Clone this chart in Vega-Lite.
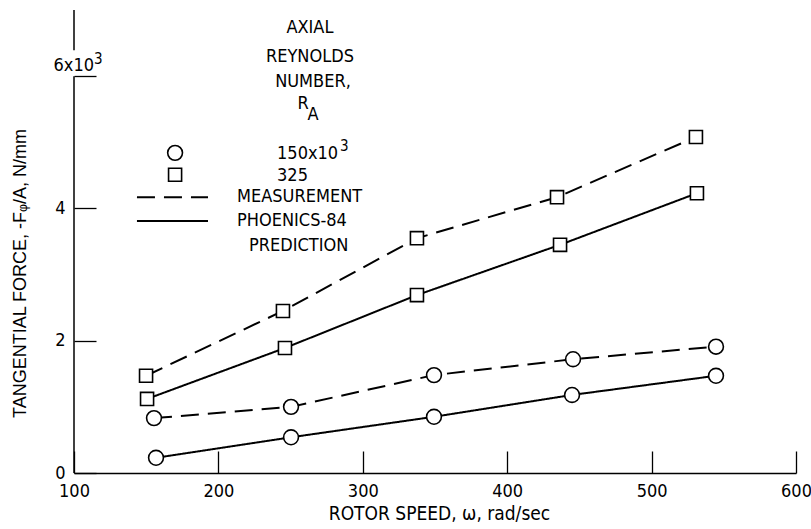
{
  "$schema": "https://vega.github.io/schema/vega-lite/v6.json",
  "width": 722,
  "height": 463,
  "autosize": {"type": "none"},
  "padding": {"left": 74, "top": 10, "right": 15, "bottom": 56},
  "background": "white",
  "config": {
    "view": {"stroke": null},
    "font": "Liberation Sans Narrow, DejaVu Sans Condensed, sans-serif",
    "text": {"font": "Liberation Sans Narrow, DejaVu Sans Condensed, sans-serif", "color": "black"},
    "axis": {
      "grid": false,
      "domainColor": "black",
      "tickColor": "black",
      "labelColor": "black",
      "titleColor": "black",
      "domainWidth": 1.5,
      "tickWidth": 1.3,
      "labelFont": "Liberation Sans Narrow, DejaVu Sans Condensed, sans-serif",
      "titleFont": "Liberation Sans Narrow, DejaVu Sans Condensed, sans-serif",
      "labelFontSize": 18,
      "titleFontSize": 19,
      "titleFontWeight": "normal",
      "labelFlush": false,
      "labelOverlap": false
    }
  },
  "datasets": {
    "obs": [
      {"speed": 149.9, "force": 1.47, "re": "325", "type": "Measurement", "series": "325 Measurement"},
      {"speed": 244.7, "force": 2.45, "re": "325", "type": "Measurement", "series": "325 Measurement"},
      {"speed": 337.5, "force": 3.55, "re": "325", "type": "Measurement", "series": "325 Measurement"},
      {"speed": 434.5, "force": 4.17, "re": "325", "type": "Measurement", "series": "325 Measurement"},
      {"speed": 530.7, "force": 5.08, "re": "325", "type": "Measurement", "series": "325 Measurement"},
      {"speed": 150.6, "force": 1.12, "re": "325", "type": "Prediction", "series": "325 Prediction"},
      {"speed": 246.1, "force": 1.89, "re": "325", "type": "Prediction", "series": "325 Prediction"},
      {"speed": 337.5, "force": 2.69, "re": "325", "type": "Prediction", "series": "325 Prediction"},
      {"speed": 436.6, "force": 3.45, "re": "325", "type": "Prediction", "series": "325 Prediction"},
      {"speed": 531.4, "force": 4.23, "re": "325", "type": "Prediction", "series": "325 Prediction"},
      {"speed": 155.4, "force": 0.83, "re": "150", "type": "Measurement", "series": "150 Measurement"},
      {"speed": 250.3, "force": 1.0, "re": "150", "type": "Measurement", "series": "150 Measurement"},
      {"speed": 349.3, "force": 1.48, "re": "150", "type": "Measurement", "series": "150 Measurement"},
      {"speed": 445.6, "force": 1.72, "re": "150", "type": "Measurement", "series": "150 Measurement"},
      {"speed": 544.6, "force": 1.91, "re": "150", "type": "Measurement", "series": "150 Measurement"},
      {"speed": 156.8, "force": 0.23, "re": "150", "type": "Prediction", "series": "150 Prediction"},
      {"speed": 250.3, "force": 0.54, "re": "150", "type": "Prediction", "series": "150 Prediction"},
      {"speed": 349.3, "force": 0.85, "re": "150", "type": "Prediction", "series": "150 Prediction"},
      {"speed": 444.9, "force": 1.18, "re": "150", "type": "Prediction", "series": "150 Prediction"},
      {"speed": 544.6, "force": 1.47, "re": "150", "type": "Prediction", "series": "150 Prediction"}
    ]
  },
  "layer": [
    {
      "data": {"name": "obs"},
      "mark": {"type": "line", "color": "black", "strokeWidth": 2},
      "encoding": {
        "x": {
          "field": "speed", "type": "quantitative",
          "scale": {"domain": [100, 600], "nice": false, "zero": false},
          "axis": {
            "values": [100, 200, 300, 400, 500, 600],
            "format": "d",
            "tickSize": -22,
            "labelPadding": 31,
            "title": "ROTOR SPEED, ω, rad/sec",
            "titleX": 365,
            "titleY": 40,
            "titleAlign": "center",
            "titleBaseline": "middle"
          }
        },
        "y": {
          "field": "force", "type": "quantitative",
          "scale": {"domain": [0, 7], "nice": false, "zero": false},
          "axis": {
            "values": [0, 2, 4, 6],
            "format": "d",
            "labelExpr": "datum.value == 6 ? '' : datum.label",
            "domain": false,
            "tickSize": -22,
            "labelPadding": 31,
            "labelBaseline": "middle",
            "title": "TANGENTIAL FORCE,  -Fᵩ/A,  N/mm",
            "titleFont": "Liberation Sans, Arial, sans-serif",
            "titleFontSize": 18,
            "titleAngle": -90,
            "titleX": -54,
            "titleY": 263,
            "titleAlign": "center",
            "titleBaseline": "middle"
          }
        },
        "detail": {"field": "series"},
        "strokeDash": {
          "field": "type", "type": "nominal",
          "scale": {"domain": ["Measurement", "Prediction"], "range": [[18, 9], [1, 0]]},
          "legend": null
        }
      }
    },
    {
      "data": {"name": "obs"},
      "mark": {"type": "point", "filled": true, "fill": "white", "stroke": "black", "strokeWidth": 1.6, "opacity": 1},
      "encoding": {
        "x": {"field": "speed", "type": "quantitative"},
        "y": {"field": "force", "type": "quantitative"},
        "shape": {"field": "re", "type": "nominal", "scale": {"domain": ["150", "325"], "range": ["circle", "square"]}, "legend": null},
        "size": {"field": "re", "type": "nominal", "scale": {"domain": ["150", "325"], "range": [220, 170]}, "legend": null}
      }
    },
    {
      "data": {"values": [{}]},
      "mark": {"type": "rule", "color": "black", "strokeWidth": 1.5},
      "encoding": {"x": {"datum": 100}, "y": {"datum": 0}, "y2": {"datum": 6}}
    },
    {
      "data": {"values": [{}]},
      "mark": {"type": "rule", "color": "black", "strokeWidth": 1.5},
      "encoding": {"x": {"datum": 100}, "y": {"datum": 6.39}, "y2": {"datum": 7}}
    },
    {
      "data": {"values": [{}]},
      "mark": {"type": "text", "fontSize": 18, "align": "right", "baseline": "bottom", "dx": 20, "dy": -1},
      "encoding": {"x": {"datum": 100}, "y": {"datum": 6}, "text": {"value": "6x10"}}
    },
    {
      "data": {"values": [{}]},
      "mark": {"type": "text", "fontSize": 15, "align": "left", "baseline": "bottom", "dx": 20, "dy": -9},
      "encoding": {"x": {"datum": 100}, "y": {"datum": 6}, "text": {"value": "3"}}
    },
    {
      "data": {"values": [{}]},
      "mark": {"type": "rule", "color": "black", "strokeWidth": 2, "strokeDash": [18, 9]},
      "encoding": {"x": {"datum": 143.6}, "x2": {"datum": 192.8}, "y": {"datum": 4.17}}
    },
    {
      "data": {"values": [{}]},
      "mark": {"type": "rule", "color": "black", "strokeWidth": 2},
      "encoding": {"x": {"datum": 143.6}, "x2": {"datum": 192.8}, "y": {"datum": 3.81}}
    },
    {
      "data": {"values": [{}]},
      "mark": {"type": "point", "shape": "circle", "size": 220, "filled": true, "fill": "white", "stroke": "black", "strokeWidth": 1.6, "opacity": 1},
      "encoding": {"x": {"datum": 170}, "y": {"datum": 4.84}}
    },
    {
      "data": {"values": [{}]},
      "mark": {"type": "point", "shape": "square", "size": 170, "filled": true, "fill": "white", "stroke": "black", "strokeWidth": 1.6, "opacity": 1},
      "encoding": {"x": {"datum": 170}, "y": {"datum": 4.51}}
    },
    {
      "data": {"values": [{}]},
      "mark": {"type": "text", "fontSize": 18, "align": "center", "baseline": "middle"},
      "encoding": {"x": {"datum": 263.4}, "y": {"datum": 6.73}, "text": {"value": "AXIAL"}}
    },
    {
      "data": {"values": [{}]},
      "mark": {"type": "text", "fontSize": 18, "align": "center", "baseline": "middle"},
      "encoding": {"x": {"datum": 263.4}, "y": {"datum": 6.29}, "text": {"value": "REYNOLDS"}}
    },
    {
      "data": {"values": [{}]},
      "mark": {"type": "text", "fontSize": 18, "align": "center", "baseline": "middle"},
      "encoding": {"x": {"datum": 265.5}, "y": {"datum": 5.91}, "text": {"value": "NUMBER,"}}
    },
    {
      "data": {"values": [{}]},
      "mark": {"type": "text", "fontSize": 18, "align": "center", "baseline": "middle"},
      "encoding": {"x": {"datum": 258.6}, "y": {"datum": 5.58}, "text": {"value": "R"}}
    },
    {
      "data": {"values": [{}]},
      "mark": {"type": "text", "fontSize": 18, "align": "center", "baseline": "middle"},
      "encoding": {"x": {"datum": 265.5}, "y": {"datum": 5.41}, "text": {"value": "A"}}
    },
    {
      "data": {"values": [{}]},
      "mark": {"type": "text", "fontSize": 18, "align": "left", "baseline": "middle"},
      "encoding": {"x": {"datum": 240.6}, "y": {"datum": 4.82}, "text": {"value": "150x10"}}
    },
    {
      "data": {"values": [{}]},
      "mark": {"type": "text", "fontSize": 15, "align": "left", "baseline": "middle", "dx": 63, "dy": -8},
      "encoding": {"x": {"datum": 240.6}, "y": {"datum": 4.82}, "text": {"value": "3"}}
    },
    {
      "data": {"values": [{}]},
      "mark": {"type": "text", "fontSize": 18, "align": "left", "baseline": "middle"},
      "encoding": {"x": {"datum": 240.6}, "y": {"datum": 4.49}, "text": {"value": "325"}}
    },
    {
      "data": {"values": [{}]},
      "mark": {"type": "text", "fontSize": 18, "align": "left", "baseline": "middle"},
      "encoding": {"x": {"datum": 212.9}, "y": {"datum": 4.17}, "text": {"value": "MEASUREMENT"}}
    },
    {
      "data": {"values": [{}]},
      "mark": {"type": "text", "fontSize": 18, "align": "left", "baseline": "middle"},
      "encoding": {"x": {"datum": 212.9}, "y": {"datum": 3.81}, "text": {"value": "PHOENICS-84"}}
    },
    {
      "data": {"values": [{}]},
      "mark": {"type": "text", "fontSize": 18, "align": "left", "baseline": "middle"},
      "encoding": {"x": {"datum": 221.2}, "y": {"datum": 3.43}, "text": {"value": "PREDICTION"}}
    }
  ]
}
